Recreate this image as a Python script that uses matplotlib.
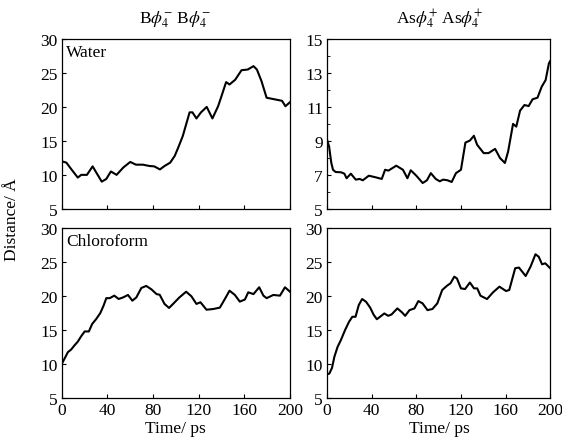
import matplotlib.pyplot as plt

plt.rcParams['font.family'] = ['Liberation Serif', 'DejaVu Serif']
plt.rcParams['mathtext.fontset'] = 'stix'

# B-phi4 / water
t_bw = [0, 4, 8, 14, 17, 22, 27, 30, 35, 39, 43, 48, 54, 60, 65, 71, 77, 81, 86, 90,
        95, 99, 102, 106, 109, 112, 114.5, 118, 122, 127, 132, 137, 140, 144, 147, 152,
        157.5, 163, 168, 171, 175, 179.5, 184, 190, 193, 196, 200]
d_bw = [12.0, 11.8, 10.9, 9.6, 10.0, 10.0, 11.25, 10.4, 9.0, 9.4, 10.5, 10.0, 11.1, 11.9,
        11.5, 11.5, 11.3, 11.25, 10.8, 11.3, 11.8, 12.8, 14.0, 15.7, 17.45, 19.2, 19.2,
        18.3, 19.2, 20.0, 18.3, 20.1, 21.6, 23.65, 23.3, 24.0, 25.4, 25.5, 26.0, 25.5,
        23.8, 21.35, 21.2, 21.0, 20.9, 20.1, 20.7]

# As-phi4 / water
t_aw = [0, 1.8, 3.8, 5.3, 7.6, 12.6, 15.5, 17.5, 21.3, 25.7, 29.2, 32, 37.4, 43.3, 49,
        52, 55, 62, 68, 72, 75, 80, 85.7, 89.5, 93, 97.4, 101, 104, 108, 111.7, 115.5,
        120, 124, 128, 131.6, 134.5, 140.4, 144.7, 150.6, 155, 159.4, 162.3, 166.7,
        169.6, 173, 176.9, 180.7, 184.2, 188.6, 192.4, 195.9, 198.8, 200]
d_aw = [9.06, 8.67, 7.7, 7.3, 7.17, 7.15, 7.07, 6.8, 7.07, 6.72, 6.76, 6.68, 6.95, 6.86,
        6.76, 7.3, 7.25, 7.54, 7.3, 6.8, 7.27, 6.95, 6.52, 6.68, 7.1, 6.76, 6.62, 6.72,
        6.68, 6.58, 7.1, 7.3, 8.9, 9.02, 9.3, 8.77, 8.28, 8.28, 8.53, 7.99, 7.7, 8.38,
        10.0, 9.84, 10.78, 11.11, 11.05, 11.45, 11.54, 12.19, 12.58, 13.55, 13.7]

# B-phi4 / chloroform
t_bc = [0, 2.3, 5.3, 8.2, 11, 14, 17, 20, 23.7, 26.6, 30, 33.7, 36.6, 39, 42, 46, 49.8,
        53.6, 58, 61.8, 65.3, 69.7, 74, 78.5, 83, 85.8, 90, 94, 97.5, 103, 109, 113.6,
        118, 121.5, 126.8, 132.6, 138.5, 143, 147, 151.7, 156, 160.5, 163.4, 168, 173,
        176.7, 179.5, 185.4, 191.2, 195.6, 200]
d_bc = [10.04, 10.77, 11.75, 12.14, 12.73, 13.3, 14.1, 14.8, 14.8, 15.9, 16.6, 17.5, 18.6,
        19.7, 19.7, 20.07, 19.58, 19.8, 20.17, 19.33, 19.8, 21.2, 21.5, 21.0, 20.3, 20.2,
        18.85, 18.26, 18.85, 19.8, 20.65, 19.97, 18.85, 19.1, 18.0, 18.1, 18.3, 19.6,
        20.8, 20.17, 19.19, 19.5, 20.56, 20.3, 21.3, 20.07, 19.7, 20.17, 20.07, 21.3, 20.65]

# As-phi4 / chloroform
t_ac = [0, 2, 4.4, 6.5, 9.4, 12.3, 16.1, 19.6, 22.6, 25.5, 28.4, 31.4, 34.9, 38.7, 41.6,
        44.6, 47.5, 51.3, 54.8, 57.8, 63, 67.2, 70, 73.9, 78.3, 81.8, 85.6, 90, 94.4,
        98.8, 103.2, 107.6, 110.6, 114, 116.4, 120, 123.7, 128, 131.7, 134.6, 137.5,
        143.4, 148.7, 154.5, 160.4, 163.3, 168.6, 172, 178, 182.4, 186.8, 189.7, 192.7,
        195.6, 200]
d_ac = [8.49, 8.6, 9.43, 11.05, 12.53, 13.5, 15.0, 16.2, 16.96, 16.96, 18.68, 19.57, 19.17,
        18.29, 17.3, 16.6, 16.96, 17.45, 17.1, 17.3, 18.19, 17.6, 17.1, 17.94, 18.19,
        19.27, 18.93, 17.94, 18.1, 18.93, 20.9, 21.54, 21.88, 22.86, 22.6, 21.14, 21.04,
        22.0, 21.14, 21.14, 20.06, 19.57, 20.55, 21.39, 20.75, 20.9, 24.1, 24.2, 22.96,
        24.34, 26.16, 25.8, 24.68, 24.83, 24.1]

x_ticks = [0, 40, 80, 120, 160, 200]

fig = plt.figure(figsize=(5.62, 4.39), dpi=100)
ax_bw = fig.add_axes([0.110, 0.522, 0.406, 0.387])
ax_aw = fig.add_axes([0.582, 0.522, 0.397, 0.387])
ax_bc = fig.add_axes([0.110, 0.091, 0.406, 0.387])
ax_ac = fig.add_axes([0.582, 0.091, 0.397, 0.387])

panels = [(ax_bw, t_bw, d_bw), (ax_aw, t_aw, d_aw), (ax_bc, t_bc, d_bc), (ax_ac, t_ac, d_ac)]
for ax, t, d in panels:
    ax.plot(t, d, color='black', lw=1.5)
    ax.set_xlim(0, 200)
    ax.set_xticks(x_ticks)
    ax.tick_params(direction='in', length=3, width=0.8, labelsize=12.5, pad=3)
    for s in ax.spines.values():
        s.set_linewidth(0.9)

for ax in (ax_bw, ax_bc, ax_ac):
    ax.set_ylim(5, 30)
    ax.set_yticks([5, 10, 15, 20, 25, 30])

ax_aw.set_ylim(5, 15)
ax_aw.set_yticks([5, 7, 9, 11, 13, 15])
ax_aw.set_yticks(range(5, 16), minor=True)
ax_aw.tick_params(which='minor', direction='in', length=2)

ax_bw.tick_params(labelbottom=False)
ax_aw.tick_params(labelbottom=False)

ax_bw.text(0.02, 0.97, 'Water', transform=ax_bw.transAxes, ha='left', va='top', fontsize=12.5)
ax_bc.text(0.02, 0.97, 'Chloroform', transform=ax_bc.transAxes, ha='left', va='top', fontsize=12.5)

fig.text(0.312, 0.955, r'B$\phi_4^{-}$ B$\phi_4^{-}$', ha='center', va='center', fontsize=12.5)
fig.text(0.782, 0.955, r'As$\phi_4^{+}$ As$\phi_4^{+}$', ha='center', va='center', fontsize=12.5)

fig.text(0.022, 0.50, 'Distance/ Å', rotation=90, ha='center', va='center', fontsize=12.5)
fig.text(0.312, 0.022, 'Time/ ps', ha='center', va='center', fontsize=12.5)
fig.text(0.782, 0.022, 'Time/ ps', ha='center', va='center', fontsize=12.5)

fig.savefig('out.png', dpi=100)
